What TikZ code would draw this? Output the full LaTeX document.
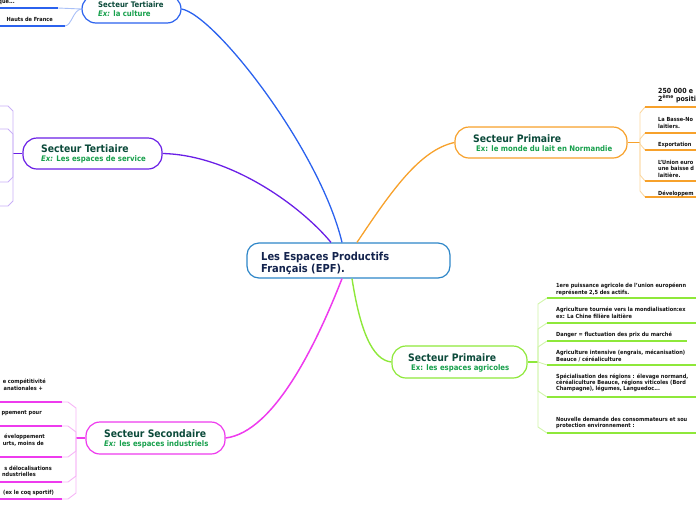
\documentclass[tikz,border=0pt]{standalone}
\usepackage{fontspec}
\setmainfont{DejaVu Sans}[FakeStretch=0.9]
\definecolor{cblue}{HTML}{2E86C8}
\definecolor{navy}{HTML}{13234D}
\definecolor{ttlgreen}{HTML}{0B4A3A}
\definecolor{subgreen}{HTML}{17A04C}
\definecolor{bl}{HTML}{2B62EE}
\definecolor{bllight}{HTML}{A9C0F7}
\definecolor{pu}{HTML}{6A1FE6}
\definecolor{pulight}{HTML}{C9B0F7}
\definecolor{orng}{HTML}{F7A12B}
\definecolor{orlight}{HTML}{FBD7A0}
\definecolor{gr}{HTML}{8EE83A}
\definecolor{grlight}{HTML}{CFF5A8}
\definecolor{ma}{HTML}{EE3BEE}
\definecolor{malight}{HTML}{F6B4F6}
\definecolor{itemtext}{HTML}{111111}
\tikzset{
  box/.style={draw, rounded corners=14pt, line width=1.2pt, fill=white, inner sep=0pt},
  ctext/.style={font=\fontsize{11}{13}\selectfont\bfseries, text=navy, anchor=base west, inner sep=0pt},
  ttl/.style={font=\fontsize{10.3}{12}\selectfont\bfseries, text=ttlgreen, anchor=base west, inner sep=0pt},
  smallttl/.style={font=\fontsize{7.7}{9}\selectfont\bfseries, text=ttlgreen, anchor=base west, inner sep=0pt},
  sub/.style={font=\fontsize{7.7}{9}\selectfont\bfseries, text=subgreen, anchor=base west, inner sep=0pt},
  itm/.style={font=\fontsize{5.6}{7}\selectfont\bfseries, text=itemtext, anchor=base west, inner sep=0pt},
  itme/.style={font=\fontsize{5.6}{7}\selectfont\bfseries, text=itemtext, anchor=base east, inner sep=0pt},
  bigitm/.style={font=\fontsize{7}{8}\selectfont\bfseries, text=itemtext, anchor=base west, inner sep=0pt},
  conn/.style={line width=1.3pt},
  stub/.style={line width=1.3pt},
  uline/.style={line width=1.9pt},
  lite/.style={line width=0.9pt},
}
\begin{document}
\begin{tikzpicture}[x=1pt,y=-1pt]
\useasboundingbox (0,0) rectangle (696,520);
\clip (0,0) rectangle (696,520);

% ---------- boxes ----------
\node[box, draw=cblue, rounded corners=12pt, minimum width=203pt, minimum height=35pt] (central) at (348.5,260.5) {};
\node[box, draw=bl, minimum width=99pt, minimum height=28pt] (topn) at (131.5,9) {};
\node[box, draw=pu, minimum width=139pt, minimum height=31pt] (tert) at (92.5,153.5) {};
\node[box, draw=orng, minimum width=172pt, minimum height=31pt] (prim) at (541,142.5) {};
\node[box, draw=gr, minimum width=135pt, minimum height=32pt] (agri) at (459.5,362) {};
\node[box, draw=ma, minimum width=139pt, minimum height=32pt] (sec) at (155.5,438) {};

% ---------- box texts ----------
\node[ctext] (c1) at (261,260) {Les Espaces Productifs};
\node[ctext] (c2) at (261,272) {Français (EPF).};

\node[smallttl] (t0a) at (98,7.5) {Secteur Tertiaire};
\node[sub] (t0b) at (98,16) {\textit{Ex:} la culture};

\node[ttl] (t1a) at (41,152.3) {Secteur Tertiaire};
\node[sub] (t1b) at (41,161.3) {\textit{Ex:} Les espaces de service};

\node[ttl] (t2a) at (473,142) {Secteur Primaire};
\node[sub] (t2b) at (476,151.3) {Ex: le monde du lait en Normandie};

\node[ttl] (t3a) at (408,361.7) {Secteur Primaire};
\node[sub] (t3b) at (411,370.7) {Ex: les espaces agricoles};

\node[ttl] (t4a) at (104,437.3) {Secteur Secondaire};
\node[sub] (t4b) at (104,446.7) {\textit{Ex:} les espaces industriels};

% ---------- main connectors ----------
\draw[conn, bl] ([xshift=-6.5pt]central.north) .. controls (320,150) and (215,15) .. (topn.east);
\draw[conn, pu] ([xshift=-17.5pt]central.north) .. controls (300,205) and (230,155) .. (tert.east);
\draw[conn, orng] ([xshift=8.5pt]central.north) .. controls (392,190) and (420,150) .. (prim.west);
\draw[conn, ma, line width=1.5pt] ([xshift=-6.5pt]central.south) .. controls (318,340) and (275,432) .. (sec.east);
\draw[conn, gr, line width=1.4pt] ([xshift=3.5pt]central.south) .. controls (360,330) and (372,360) .. (agri.west);

% ---------- top (blue) children ----------
\coordinate (b1) at (58,8);
\coordinate (b2) at (65,26);
\draw[lite, bllight] (topn.west) -- (b1);
\draw[lite, bllight] (topn.west) .. controls (73,10) and (72,25) .. (b2);
\draw[uline, bl] (b1) -- (-5,8);
\draw[uline, bl] (b2) -- (-5,26);
\node[itme] (bt1) at (15,3.3) {que...};
\node[itme] (bt2) at (53,21.7) {Hauts de France};

% ---------- purple children ----------
\coordinate (ph) at (13,153.5);
\draw[stub, pu] (tert.west) -- (ph);
\foreach \y/\d in {106/5,129/5,182/-5,206/-5}{
  \draw[lite, pulight] (ph) -- (13,\y+\d) -- (8,\y) -- (-5,\y);
}

% ---------- orange children ----------
\coordinate (oh) at (640,142.5);
\draw[stub, orng] (prim.east) -- (oh);
\foreach \y/\d in {107/6,133/6,150/-6,181/-6,197/-6}{
  \draw[lite, orlight] (oh) -- (640,\y+\d) -- (645,\y);
  \draw[uline, orng] (645,\y) -- (705,\y);
}
\node[bigitm] (o1a) at (658,93.5) {250 000 e};
\node[bigitm] (o1b) at (658,101.3) {2\textsuperscript{ème} positi};
\node[itm] (o2a) at (658,121.5) {La Basse-No};
\node[itm] (o2b) at (658,128.5) {laitiers.};
\node[itm] (o3a) at (658,146.7) {Exportation};
\node[itm] (o4a) at (658,164) {L’Union euro};
\node[itm] (o4b) at (658,170.7) {une baisse d};
\node[itm] (o4c) at (658,177.3) {laitière.};
\node[itm] (o5a) at (658,195) {Développem};

% ---------- green children ----------
\coordinate (gh) at (538,362);
\draw[stub, gr] (agri.east) -- (gh);
\foreach \y/\d/\e in {298/6/705,323/6/705,341/6/687,365/-3/705,397/-6/705,433/-6/705}{
  \draw[lite, grlight] (gh) -- (538,\y+\d) -- (547,\y);
  \draw[uline, gr] (547,\y) -- (\e,\y);
}
\node[itm] (a1a) at (556,287.3) {1ere puissance agricole de l’union européenn};
\node[itm] (a1b) at (556,294.7) {représente 2,5 des actifs.};
\node[itm] (a2a) at (556,311.3) {Agriculture tournée vers la mondialisation:ex};
\node[itm] (a2b) at (556,318.7) {ex: La Chine filière laitière};
\node[itm] (a3a) at (556,336.3) {Danger = fluctuation des prix du marché};
\node[itm] (a4a) at (556,354) {Agriculture intensive (engrais, mécanisation)};
\node[itm] (a4b) at (556,361.3) {Beauce / céréaliculture};
\node[itm] (a5a) at (556,378) {Spécialisation des régions : élevage normand,};
\node[itm] (a5b) at (556,384.3) {céréaliculture Beauce, régions viticoles (Bord};
\node[itm] (a5c) at (556,390.6) {Champagne), légumes, Languedoc...};
\node[itm] (a6a) at (556,421) {Nouvelle demande des consommateurs et sou};
\node[itm] (a6b) at (556,427.7) {protection environnement :};

% ---------- magenta children ----------
\coordinate (mh) at (76,438);
\draw[stub, ma] (sec.west) -- (mh);
\foreach \y/\d in {402/6,426/6,457/-6,482/-6,499/-6}{
  \draw[lite, malight] (mh) -- (76,\y+\d) -- (68,\y) -- (62,\y);
  \draw[uline, ma] (62,\y) -- (-5,\y);
}
\node[itme] (s1a) at (46,383.7) {e compétitivité};
\node[itme] (s1b) at (43,390.3) {anationales +};
\node[itme] (s2a) at (42,414.3) {ppement pour};
\node[itme] (s3a) at (45,438.7) {éveloppement};
\node[itme] (s3b) at (44,445.3) {urts, moins de};
\node[itme] (s4a) at (52,470.3) {s délocalisations};
\node[itme] (s4b) at (36,476.3) {ndustrielles};
\node[itm] (s5a) at (3,494.3) {(ex le coq sportif)};
\end{tikzpicture}
\end{document}
